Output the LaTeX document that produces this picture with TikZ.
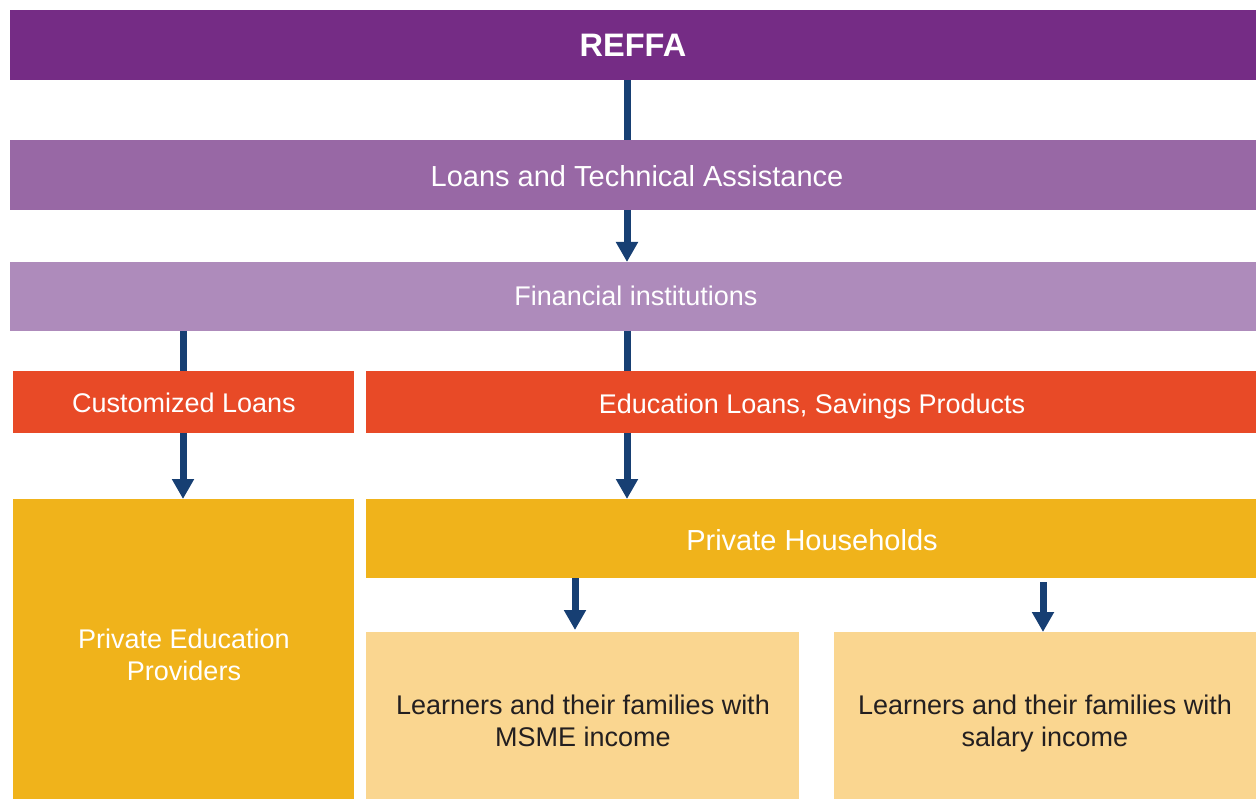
\documentclass[tikz,border=0pt]{standalone}
\usepackage{fontspec}
\setmainfont{Liberation Sans}
\usetikzlibrary{arrows.meta,calc}
\definecolor{cReffa}{HTML}{752C85}
\definecolor{cLta}{HTML}{9868A5}
\definecolor{cFin}{HTML}{AE8BBB}
\definecolor{cOrange}{HTML}{E84A27}
\definecolor{cYellow}{HTML}{F0B31B}
\definecolor{cLight}{HTML}{FAD690}
\definecolor{cArrow}{HTML}{173F73}
\definecolor{cDark}{HTML}{231F20}
\tikzset{
  box/.style={anchor=north west, inner sep=0pt, outer sep=0pt},
  lbl/.style={text=white, font=\fontsize{27}{32}\selectfont, align=center, inner sep=0pt},
  dlbl/.style={text=cDark, font=\fontsize{27}{32}\selectfont, align=center, inner sep=0pt},
  conn/.style={draw=cArrow, line width=7pt},
  arr/.style={conn, -{Triangle[width=21pt,length=20pt]}},
}
\begin{document}
\begin{tikzpicture}[x=1pt,y=-1pt]
\useasboundingbox (0,0) rectangle (1256,799);
% boxes
\node[box, fill=cReffa, minimum width=1246pt, minimum height=70pt] (reffa) at (10,10) {};
\node[box, fill=cLta, minimum width=1246pt, minimum height=70pt] (lta) at (10,140) {};
\node[box, fill=cFin, minimum width=1246pt, minimum height=69pt] (fin) at (10,262) {};
\node[box, fill=cOrange, minimum width=341pt, minimum height=62pt] (cust) at (13,371) {};
\node[box, fill=cOrange, minimum width=890pt, minimum height=62pt] (edu) at (366,371) {};
\node[box, fill=cYellow, minimum width=341pt, minimum height=300pt] (pep) at (13,499) {};
\node[box, fill=cYellow, minimum width=890pt, minimum height=79pt] (ph) at (366,499) {};
\node[box, fill=cLight, minimum width=433pt, minimum height=167pt] (msme) at (366,632) {};
\node[box, fill=cLight, minimum width=422pt, minimum height=167pt] (sal) at (834,632) {};
% labels
\node[text=white, font=\fontsize{32.5}{38}\selectfont\bfseries, inner sep=0pt] (treffa) at (reffa.center) {REFFA};
\node[lbl, font=\fontsize{29}{34}\selectfont] (tlta) at (637,176) {Loans and Technical Assistance};
\node[lbl] (tfin) at (636,296) {Financial institutions};
\node[lbl] (tcust) at (184,403) {Customized Loans};
\node[lbl] (tedu) at (812,407) {Education Loans, Savings Products};
\node[lbl, font=\fontsize{29}{34}\selectfont] (tph) at (812,540) {Private Households};
\node[lbl] (tpep) at (184,655) {Private Education\\Providers};
\node[dlbl] (tmsme) at (583,721) {Learners and their families with\\MSME income};
\node[dlbl] (tsal) at (1045,724) {Learners and their families with\\salary income};
% connectors
\draw[conn] (reffa.south -| 627,0) -- (lta.north -| 627,0);
\draw[arr] (lta.south -| 627,0) -- (fin.north -| 627,0);
\draw[conn] (fin.south -| 183,0) -- (cust.north -| 183,0);
\draw[arr] (cust.south -| 183,0) -- (pep.north -| 183,0);
\draw[conn] (fin.south -| 627,0) -- (edu.north -| 627,0);
\draw[arr] (edu.south -| 627,0) -- (ph.north -| 627,0);
\draw[arr] (ph.south -| 575,0) -- ($(msme.north -| 575,0)+(0,-2)$);
\draw[arr] ($(ph.south -| 1043,0)+(0,4)$) -- (sal.north -| 1043,0);
\end{tikzpicture}
\end{document}
